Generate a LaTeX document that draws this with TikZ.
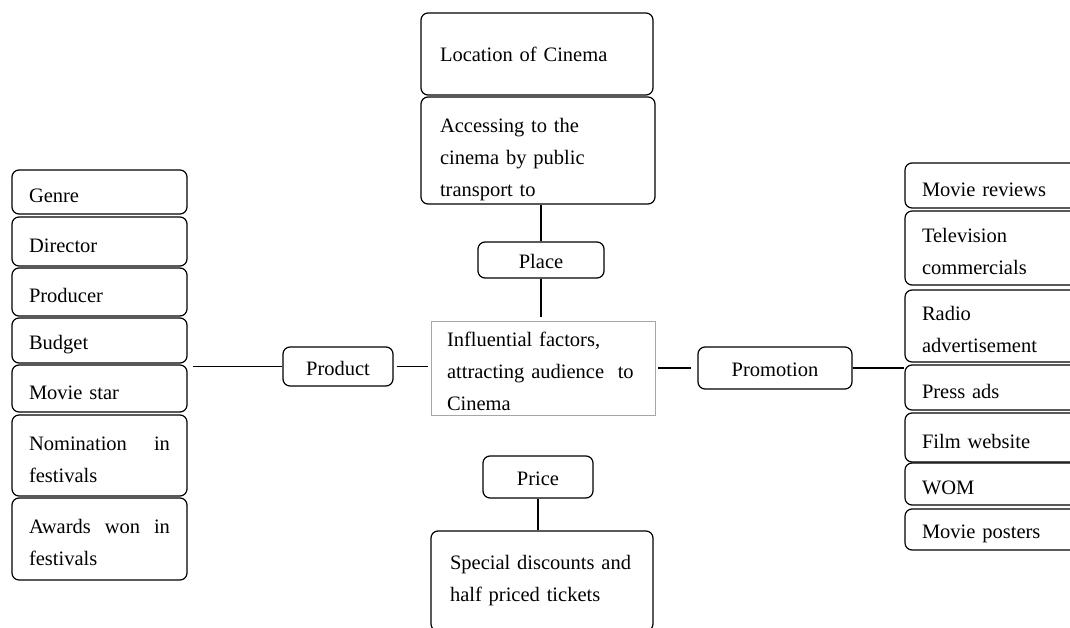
\documentclass[tikz,border=0pt]{standalone}
\usepackage{fontspec}
\setmainfont{Liberation Serif}
\usetikzlibrary{positioning}

\begin{document}
\begin{tikzpicture}[
            x = 1pt, y = -1pt, % pixel units, y going down
            line width = 1.2pt, % line style
            box/.style = {draw, rounded corners = 7pt, align = left,
                inner ysep = 0pt, font = \fontsize{20.5}{32}\selectfont},
            drop/.style = {execute at begin node = {\rule{0pt}{#1}}}, % push text down
            drop/.default = 22pt,
            factor/.style = {box, drop, inner xsep = 17pt, text width = 141pt}, % side columns
            hub/.style = {box, drop = 18pt, align = center, inner xsep = 0pt} % the 4 P boxes
        ]

	\clip (0,0) rectangle (1070,628);

	% product
	\node[factor, minimum height=44pt] (genre) at (99.5,192) {Genre};
	\node[factor, minimum height=49pt] (director) at (99.5,241.5) {Director};
	\node[factor, minimum height=48pt] (producer) at (99.5,292) {Producer};
	\node[factor, minimum height=45pt] (budget) at (99.5,340.5) {Budget};
	\node[factor, minimum height=47pt] (moviestar) at (99.5,388.5) {Movie star};
	\node[factor, minimum height=81pt] (nomination) at (99.5,455.5) {Nomination\hfill in\\festivals};
	\node[factor, minimum height=82pt] (awards) at (99.5,539) {Awards\hfill won\hfill in\\festivals};
	\node[hub, minimum width=110pt, minimum height=39pt] (product) at (338,366.5) {Product};

	% place
	\node[box, drop=16pt, inner xsep=19pt, text width=194pt, minimum height=82pt] (location) at (537,54) {Location of Cinema};
	\node[box, drop=32pt, inner xsep=19pt, text width=196pt, minimum height=107pt] (access) at (538,150.5) {Accessing to the\\cinema by public\\transport to};
	\node[hub, minimum width=126pt, minimum height=36pt] (place) at (541,260) {Place};

	% centre
	\node[box, drop, draw=gray!70, line width=0.8pt, sharp corners, inner xsep=16pt, text width=192pt,
		minimum height=94pt] (centre) at (543,368) {Influential factors,\\attracting audience~ to\\Cinema};

	% price
	\node[hub, minimum width=110pt, minimum height=42pt] (price) at (538,477) {Price};
	\node[box, inner xsep=19pt, text width=184pt, minimum height=100pt] (special) at (542,581) {Special discounts and\\half priced tickets};

	% promotion
	\node[hub, minimum width=154pt, minimum height=42pt] (promotion) at (775,368) {Promotion};
	\node[factor, minimum height=45pt] (reviews) at (992.5,185.5) {Movie reviews};
	\node[factor, minimum height=74pt] (tv) at (992.5,248) {Television\\commercials};
	\node[factor, minimum height=72pt] (radio) at (992.5,326) {Radio\\advertisement};
	\node[factor, minimum height=45pt] (pressads) at (992.5,387.5) {Press ads};
	\node[factor, minimum height=49pt] (website) at (992.5,437.5) {Film website};
	\node[factor, minimum height=42pt] (wom) at (992.5,484) {WOM};
	\node[factor, minimum height=41pt] (posters) at (992.5,529.5) {Movie posters};

	\draw[shorten >=5pt] (product.west) -- (product.west -| moviestar.east);
	\draw[shorten <=3pt, shorten >=3pt] (product.east) -- (product.east -| centre.west);
	\draw (place.north) -- (place.north |- access.south);
	\draw[shorten >=4pt] (place.south) -- (place.south |- centre.north);
	\draw (price.south) -- (price.south |- special.north);
	\draw[shorten <=3pt, shorten >=6pt] (centre.east) -- (centre.east -| promotion.west);
	\draw (promotion.east) -- (promotion.east -| pressads.west);

\end{tikzpicture}
\end{document}
